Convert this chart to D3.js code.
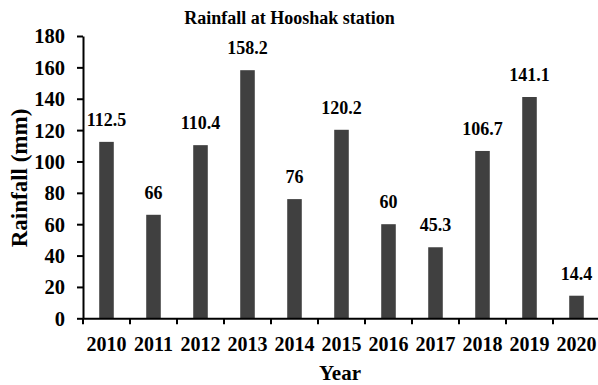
<!DOCTYPE html>
<html><head><meta charset="utf-8">
<script src="https://cdn.jsdelivr.net/npm/d3@7"></script>
<style>
html,body{margin:0;padding:0;background:#fff;overflow:hidden;}
svg{display:block;font-family:"Liberation Serif","Times New Roman",serif;font-weight:bold;}
</style></head>
<body>
<svg id="chart" width="598" height="385"></svg>
<script>
const years = ["2010","2011","2012","2013","2014","2015","2016","2017","2018","2019","2020"];
const rainfall = [112.5, 66, 110.4, 158.2, 76, 120.2, 60, 45.3, 106.7, 141.1, 14.4];
const rainLabels = ["112.5","66","110.4","158.2","76","120.2","60","45.3","106.7","141.1","14.4"];
const yTicks = [0,20,40,60,80,100,120,140,160,180];
const titleText = "Rainfall at Hooshak station";
const xTitle = "Year";
const yTitle = "Rainfall (mm)";

const svg = d3.select("#chart");
const x0 = 83, x1 = 600, yBottom = 318.3, yTop = 36;

const x = d3.scaleBand().domain(years).range([x0, x1]).paddingInner(0.69).paddingOuter(0.345);
const y = d3.scaleLinear().domain([0, 180]).range([yBottom, yTop]);

// bars
svg.append("g").selectAll("rect").data(rainfall).join("rect")
  .attr("x", (d,i) => x(years[i]))
  .attr("width", x.bandwidth())
  .attr("y", d => y(d))
  .attr("height", d => y(0) - y(d))
  .attr("fill", "#404040");

// data labels
svg.append("g").selectAll("text").data(rainfall).join("text")
  .attr("x", (d,i) => x(years[i]) + x.bandwidth()/2)
  .attr("y", d => y(d) - 16)
  .attr("text-anchor", "middle")
  .attr("font-size", 18)
  .attr("fill", "#000")
  .text((d,i) => rainLabels[i]);

// y axis
const yAxis = d3.axisLeft(y).tickValues(yTicks).tickSize(6).tickPadding(12).tickSizeOuter(0);
const gy = svg.append("g").attr("transform", `translate(${x0},0)`).call(yAxis)
  .attr("font-family", null).attr("font-size", null);
gy.select(".domain").attr("stroke", "#000").attr("stroke-width", 2);
gy.selectAll(".tick line").attr("stroke", "#000").attr("stroke-width", 2);
gy.selectAll(".tick text").attr("font-size", 20.5).attr("fill", "#000").attr("dy", "0.34em");

// x axis
const step = x.step();
const xAxis = d3.axisBottom(x).tickSize(0).tickPadding(21).tickSizeOuter(0);
const gx = svg.append("g").attr("transform", `translate(0,${yBottom})`).call(xAxis)
  .attr("font-family", null).attr("font-size", null);
gx.select(".domain").attr("stroke", "#000").attr("stroke-width", 2);
gx.selectAll(".tick text").attr("font-size", 20).attr("fill", "#000").attr("dy", "0.6em");
// category boundary ticks
gx.append("g").selectAll("line").data(years).join("line")
  .attr("x1", d => x(d) - step*x.paddingOuter())
  .attr("x2", d => x(d) - step*x.paddingOuter())
  .attr("y1", 0).attr("y2", 6)
  .attr("stroke", "#000").attr("stroke-width", 2);

// titles
svg.append("text").attr("x", 289.5).attr("y", 24).attr("text-anchor", "middle")
  .attr("font-size", 18).text(titleText);
svg.append("text").attr("x", 340).attr("y", 380).attr("text-anchor", "middle")
  .attr("font-size", 21).text(xTitle);
svg.append("text").attr("transform", "translate(27,178) rotate(-90)").attr("text-anchor", "middle")
  .attr("font-size", 23).text(yTitle);
</script>
</body></html>
